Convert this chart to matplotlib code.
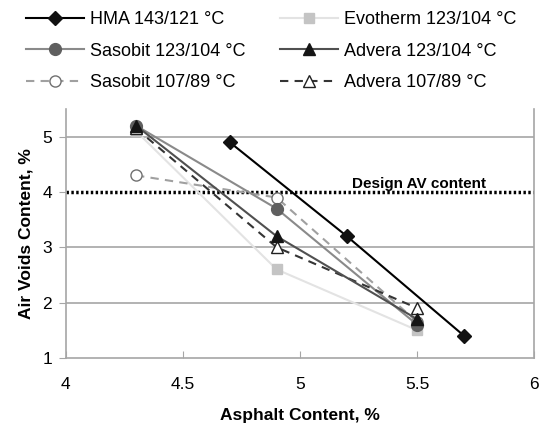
import numpy as np
import matplotlib.pyplot as plt

plt.rcParams["font.family"] = ["Liberation Sans", "DejaVu Sans"]

# asphalt content (%) and air voids (%) per mix
hma_x = [4.7, 5.2, 5.7]
hma_y = [4.9, 3.2, 1.4]
evo_x = [4.3, 4.9, 5.5]
evo_y = [5.1, 2.6, 1.5]
sas123_x = [4.3, 4.9, 5.5]
sas123_y = [5.2, 3.7, 1.6]
adv123_x = [4.3, 4.9, 5.5]
adv123_y = [5.2, 3.2, 1.7]
sas107_x = [4.3, 4.9, 5.5]
sas107_y = [4.3, 3.9, 1.65]
adv107_x = [4.3, 4.9, 5.5]
adv107_y = [5.15, 3.0, 1.9]
design_av = 4.0

fig = plt.figure(figsize=(5.53, 4.26), dpi=100)
ax = fig.add_axes([0.119, 0.160, 0.847, 0.584])

for y in [2, 3, 5]:
    ax.axhline(y, color="#a6a6a6", lw=1.2, zorder=0)
ax.axhline(design_av, color="black", lw=2.5, ls=(0, (0.7, 0.7)), zorder=1)
ax.text(5.51, design_av + 0.15, "Design AV content", ha="center", va="center",
        fontsize=11, fontweight="bold")

h_evo, = ax.plot(evo_x, evo_y, color="#e3e3e3", lw=1.5, marker="s", ms=7,
                 mfc="#c4c4c4", mec="#c4c4c4", label="Evotherm 123/104 °C")
h_sas107, = ax.plot(sas107_x, sas107_y, color="#a0a0a0", lw=1.5, ls=(0, (4, 3)),
                    marker="o", ms=8, mfc="white", mec="#707070",
                    label="Sasobit 107/89 °C")
h_sas, = ax.plot(sas123_x, sas123_y, color="#8a8a8a", lw=1.5, marker="o", ms=8.5,
                 mfc="#5f5f5f", mec="#5f5f5f", label="Sasobit 123/104 °C")
h_adv107, = ax.plot(adv107_x, adv107_y, color="#353535", lw=1.5, ls=(0, (4, 3)),
                    marker="^", ms=8.5, mfc="white", mec="#202020",
                    label="Advera 107/89 °C")
h_adv, = ax.plot(adv123_x, adv123_y, color="#505050", lw=1.5, marker="^", ms=8.5,
                 mfc="#151515", mec="#151515", label="Advera 123/104 °C")
h_hma, = ax.plot(hma_x, hma_y, color="black", lw=1.5, marker="D", ms=7,
                 mfc="#111111", mec="#111111", label="HMA 143/121 °C")

ax.set_xlim(4, 6)
ax.set_ylim(1, 5.5)
ax.set_xticks([4, 4.5, 5, 5.5, 6])
ax.set_xticklabels(["4", "4.5", "5", "5.5", "6"])
ax.set_yticks([1, 2, 3, 4, 5])
ax.tick_params(axis="x", direction="in", length=5, color="#a6a6a6", labelsize=12.5, pad=14)
ax.tick_params(axis="y", direction="out", length=5, color="#a6a6a6", labelsize=12.5, pad=5)
ax.spines["top"].set_visible(False)
for s in ["left", "right", "bottom"]:
    ax.spines[s].set_color("#a6a6a6")
    ax.spines[s].set_linewidth(1.2)

ax.set_xlabel("Asphalt Content, %", fontsize=12.5, fontweight="bold", labelpad=11)
ax.set_ylabel("Air Voids Content, %", fontsize=12.5, fontweight="bold", labelpad=6)

handles = [h_hma, h_sas, h_sas107, h_evo, h_adv, h_adv107]
fig.legend(handles=handles, labels=[h.get_label() for h in handles], ncol=2,
           loc="upper left", bbox_to_anchor=(0.018, 1.012), frameon=False,
           fontsize=13, handlelength=3.2, columnspacing=1.9, labelspacing=0.8,
           handletextpad=0.35)

fig.savefig("out.png", dpi=100)
